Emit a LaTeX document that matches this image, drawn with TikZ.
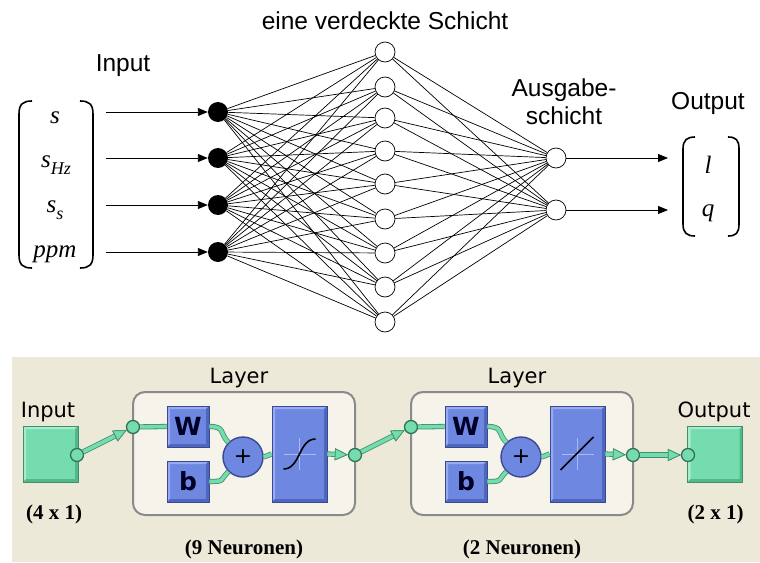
\documentclass[tikz,border=0pt]{standalone}
\usepackage{fontspec}
\setmainfont{Liberation Serif}
\newfontfamily\arialf{Liberation Sans}
\newfontfamily\tahf{DejaVu Sans}
\usetikzlibrary{arrows.meta}
\definecolor{bgbeige}{HTML}{ECE9D8}
\definecolor{layerfill}{HTML}{F5F3EA}
\definecolor{layerbord}{HTML}{8A8A8A}
\definecolor{mint}{HTML}{74DCAE}
\definecolor{mintlight}{HTML}{A8ECCD}
\definecolor{mintdark}{HTML}{3F8F6C}
\definecolor{mintshadow}{HTML}{52B88A}
\definecolor{blu}{HTML}{6E88E2}
\definecolor{blulight}{HTML}{98ABF0}
\definecolor{bludark}{HTML}{4E66BE}
\definecolor{bluline}{HTML}{3B4A90}
\definecolor{crossc}{HTML}{A9B9F2}
\tikzset{
  lab/.style={font=\arialf\fontsize{24.5}{28}\selectfont, inner sep=0pt},
  mathlab/.style={font=\fontsize{25}{25}\selectfont\itshape, inner sep=0pt, anchor=base},
  inN/.style={circle, fill=black, minimum size=20pt, inner sep=0pt},
  hidN/.style={circle, draw=black, fill=white, line width=0.7pt, minimum size=20pt, inner sep=0pt},
  edge/.style={line width=0.7pt},
  arr/.style={line width=0.9pt, -{Triangle[length=10pt,width=8pt]}},
  brk/.style={line width=1.6pt},
  bevel/.style 2 args={path picture={
    \fill[#1] (path picture bounding box.north west) -- (path picture bounding box.north east)
      -- ([shift={(-3pt,-3pt)}]path picture bounding box.north east) -- ([shift={(3pt,-3pt)}]path picture bounding box.north west) -- cycle;
    \fill[#1] (path picture bounding box.north west) -- (path picture bounding box.south west)
      -- ([shift={(3pt,3pt)}]path picture bounding box.south west) -- ([shift={(3pt,-3pt)}]path picture bounding box.north west) -- cycle;
    \fill[#2] (path picture bounding box.south west) -- (path picture bounding box.south east)
      -- ([shift={(-3pt,3pt)}]path picture bounding box.south east) -- ([shift={(3pt,3pt)}]path picture bounding box.south west) -- cycle;
    \fill[#2] (path picture bounding box.north east) -- (path picture bounding box.south east)
      -- ([shift={(-3pt,3pt)}]path picture bounding box.south east) -- ([shift={(-3pt,-3pt)}]path picture bounding box.north east) -- cycle;
  }},
  gsq/.style={rectangle, fill=mint, draw=mintdark, line width=0.8pt, minimum width=55pt, minimum height=56pt, inner sep=0pt, bevel={mintlight}{mintshadow}},
  bbox/.style={rectangle, fill=blu, draw=bluline, line width=0.8pt, inner sep=0pt, bevel={blulight}{bludark},
     font=\tahf\bfseries\fontsize{25}{25}\selectfont, text=black!85!blue},
  sumc/.style={circle, fill=blu, draw=bluline, line width=1.4pt, minimum size=40pt, inner sep=0pt, font=\tahf\fontsize{22}{22}\selectfont},
  layerbox/.style={rectangle, rounded corners=12pt, fill=layerfill, draw=layerbord, line width=2pt, minimum width=222pt, minimum height=123pt},
  gcirc/.style={circle, fill=mint, draw=mintdark!80!black, line width=1.3pt, minimum size=13pt, inner sep=0pt},
  gl/.style={draw=mint, line width=3.6pt, preaction={draw=mintdark, line width=5.2pt}},
  gar/.style={-{Triangle[length=13pt,width=12pt,line width=0.7pt,color=mintdark,fill=mint]}},
  tah/.style={font=\tahf\fontsize{21}{21}\selectfont, inner sep=0pt, anchor=base},
  tb/.style={font=\bfseries\fontsize{21}{21}\selectfont, inner sep=0pt, anchor=base},
}
\begin{document}
\begin{tikzpicture}[x=1pt,y=-1pt]
\useasboundingbox (0,0) rectangle (760,562);
\fill[white] (0,0) rectangle (760,562);

% ---------- top: network ----------
\node[lab] (title) at (385,21) {eine verdeckte Schicht};
\node[lab] (inlab) at (123,66) {Input};
\node[lab, align=center] (ausg) at (564,102) {Ausgabe-\\schicht};
\node[lab] (outlab) at (708,103) {Output};

% input vector
\draw[brk] (32,101) .. controls (23,101) and (19,104) .. (19,114) -- (19,255) .. controls (19,265) and (23,268) .. (32,268);
\draw[brk] (80,101) .. controls (89,101) and (93,104) .. (93,114) -- (93,255) .. controls (93,265) and (89,268) .. (80,268);
\node[mathlab] (xs) at (55,123) {s};
\node[mathlab] (xshz) at (56,167) {s\raisebox{-0.28em}{\fontsize{18}{18}\selectfont Hz}};
\node[mathlab] (xss) at (55,212) {s\raisebox{-0.28em}{\fontsize{18}{18}\selectfont s}};
\node[mathlab] (xppm) at (55,257) {ppm};

% output vector
\draw[brk] (695,137) .. controls (687,137) and (683,140) .. (683,149) -- (683,224) .. controls (683,233) and (687,236) .. (695,236);
\draw[brk] (728,137) .. controls (736,137) and (739,140) .. (739,149) -- (739,224) .. controls (739,233) and (736,236) .. (728,236);
\node[mathlab] (yl) at (708,173) {l};
\node[mathlab] (yq) at (708,216) {q};

% neurons
\foreach \k/\y in {1/112,2/158,3/205,4/252}{
  \node[inN] (i\k) at (218,\y) {};
  \coordinate (a\k) at (106,\y);
}
\foreach \k/\y in {1/52,2/87,3/118,4/151,5/184,6/219,7/253,8/287,9/322}{
  \node[hidN] (h\k) at (385,\y) {};
}
\node[hidN] (o1) at (556,158) {};
\node[hidN] (o2) at (556,210) {};
\coordinate (b1) at (668,158);
\coordinate (b2) at (668,210);

\foreach \i in {1,...,4}{
  \foreach \j in {1,...,9}{
    \draw[edge] (i\i) -- (h\j);
  }
  \draw[arr] (a\i) -- (i\i);
}
\foreach \j in {1,...,9}{
  \draw[edge] (h\j) -- (o1);
  \draw[edge] (h\j) -- (o2);
}
\draw[arr] (o1) -- (b1);
\draw[arr] (o2) -- (b2);

% ---------- bottom: toolbox view ----------
\fill[bgbeige] (12,357) rectangle (760,562);

\node[tah] (inl2) at (48,417) {Input};
\node[tah] (outl2) at (714,417) {Output};
\node[gsq] (insq) at (50.5,454) {};
\node[gsq] (outsq) at (715,454) {};
\node[tb] (d41) at (54,519) {(4 x 1)};
\node[tb] (d21) at (715.5,519) {(2 x 1)};

\foreach \k/\dx/\nn in {1/0/9, 2/278/2}{
  \begin{scope}[xshift=\dx pt]
  \node[layerbox] (L\k) at (244,453.5) {};
  \node[tah] (ll\k) at (239,383) {Layer};
  \node[tb] (nn\k) at (244,554) {(\nn\ Neuronen)};
  \node[bbox, minimum width=42pt, minimum height=41pt] (w\k) at (188,426.5) {W};
  \node[bbox, minimum width=42pt, minimum height=41pt] (bb\k) at (188,481.5) {b};
  \node[sumc] (s\k) at (243,457) {+};
  \node[bbox, minimum width=55pt, minimum height=96pt] (tf\k) at (299.5,454) {};
  \node[gcirc] (ci\k) at (133,427) {};
  \node[gcirc] (co\k) at (355,455) {};
  \end{scope}
  \draw[gl] (ci\k) -- (w\k.west);
  \draw[gl] (w\k.east) .. controls +(16,0) and +(-9,-9) .. (s\k.north west);
  \draw[gl] (bb\k.east) .. controls +(16,0) and +(-9,9) .. (s\k.south west);
  \draw[gl] (s\k.east) -- (tf\k.west);
  \draw[gl, gar] (tf\k.east) -- (co\k);
  \draw[crossc, line width=0.9pt] (tf\k.center) ++(-16,0) -- ++(32,0);
  \draw[crossc, line width=0.9pt] (tf\k.center) ++(0,-16) -- ++(0,32);
}
\draw[line width=1.6pt] (tf1.center) ++(-16,15) .. controls +(17,0) and +(-17,0) .. ++(32,-30);
\draw[line width=1.6pt] (tf2.center) ++(-17,16) -- ++(33,-33);

\node[gcirc] (c0) at (77,455) {};
\node[gcirc] (c5) at (688,455) {};
\draw[gl, gar] (c0) -- (ci1);
\draw[gl, gar] (co1) -- (ci2);
\draw[gl, gar] (co2) -- (c5);
\end{tikzpicture}
\end{document}
